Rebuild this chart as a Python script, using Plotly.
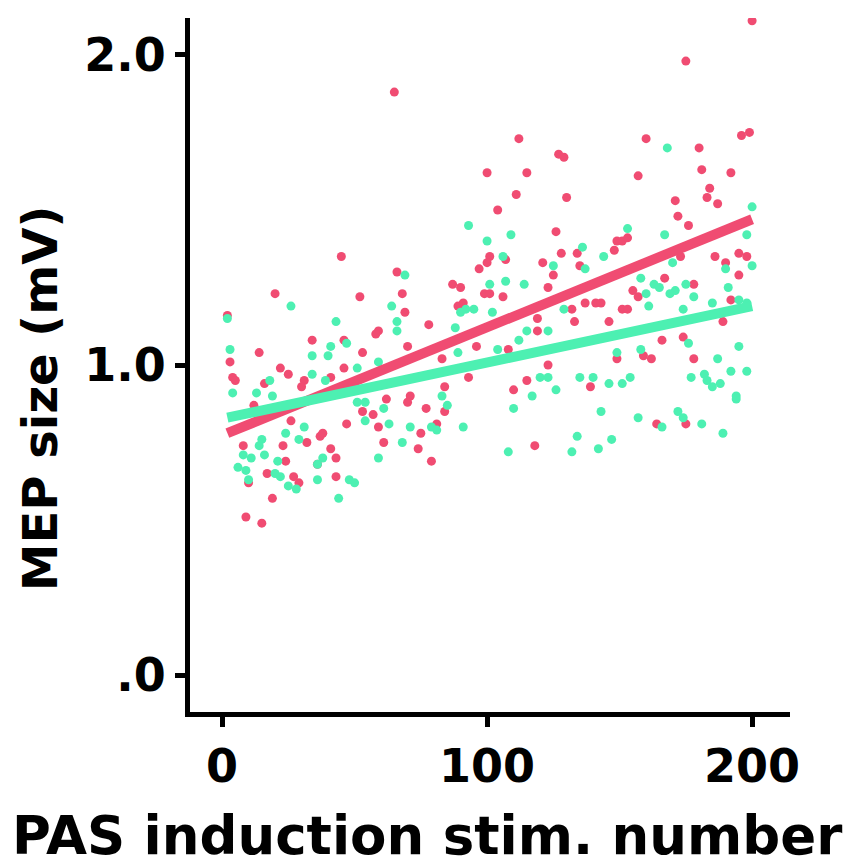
import plotly.graph_objects as go

# ---- data ----
red_x = [200, 175, 65, 112, 127, 129, 100, 115, 111, 130, 104, 126, 128, 101, 100, 107, 121, 134, 135,
         149, 151, 148, 160, 180, 196, 199, 157, 181, 192, 184, 183, 187, 171, 172, 176, 153, 173, 186,
         190, 195, 198, 45, 66, 97, 2, 20, 34, 14, 3, 4, 5, 22, 25, 46, 41, 31, 30, 16, 46, 52, 68, 69,
         87, 90, 99, 89, 91, 78, 59, 58, 53, 70, 96, 83, 93, 84, 62, 71, 70, 125, 101, 106, 123, 137,
         141, 143, 132, 151, 133, 146, 119, 119, 108, 123, 149, 115, 110, 139, 167, 178, 195, 155, 157,
         192, 189, 166, 174, 159, 162, 178, 153, 12, 26, 47, 37, 38, 32, 23, 41, 43, 24, 36, 8, 17, 27,
         29, 43, 19, 9, 15, 10, 77, 84, 53, 57, 59, 75, 81, 61, 74, 79, 118, 164, 175]
red_y = [2.11, 1.98, 1.88, 1.73, 1.68, 1.67, 1.62, 1.62, 1.55, 1.54, 1.50, 1.43, 1.36, 1.35, 1.33, 1.34,
         1.33, 1.36, 1.32, 1.40, 1.40, 1.37, 1.73, 1.70, 1.74, 1.75, 1.61, 1.63, 1.62, 1.57, 1.54, 1.52,
         1.53, 1.48, 1.45, 1.41, 1.35, 1.35, 1.33, 1.36, 1.35, 1.35, 1.30, 1.31, 1.16, 1.23, 1.08, 1.04,
         1.01, 0.96, 0.95, 0.99, 0.97, 1.08, 0.96, 0.95, 0.93, 0.94, 0.99, 1.22, 1.23, 1.17, 1.26, 1.25,
         1.23, 1.19, 1.20, 1.13, 1.11, 1.10, 1.04, 1.06, 1.06, 1.02, 0.96, 0.93, 0.89, 0.90, 0.88, 1.29,
         1.23, 1.22, 1.25, 1.20, 1.20, 1.20, 1.18, 1.18, 1.14, 1.14, 1.15, 1.11, 1.05, 1.00, 1.02, 0.95,
         0.92, 0.93, 1.28, 1.26, 1.29, 1.24, 1.22, 1.21, 1.14, 1.08, 1.09, 1.03, 1.02, 1.02, 1.18, 0.87,
         0.82, 0.81, 0.77, 0.78, 0.75, 0.74, 0.73, 0.70, 0.69, 0.68, 0.74, 0.65, 0.64, 0.62, 0.64, 0.57,
         0.51, 0.49, 0.62, 0.86, 0.85, 0.85, 0.84, 0.80, 0.78, 0.81, 0.75, 0.73, 0.69, 0.74, 0.81, 0.81]

green_x = [109, 100, 106, 136, 144, 125, 137, 153, 168, 200, 167, 198, 190, 200, 170, 93, 69, 2, 26, 43,
           3, 34, 41, 40, 34, 18, 4, 13, 39, 19, 64, 66, 66, 92, 95, 90, 88, 47, 89, 59, 51, 83, 101,
           107, 114, 102, 129, 115, 123, 112, 104, 149, 120, 123, 135, 140, 146, 151, 126, 117, 158, 163,
           165, 171, 169, 175, 160, 191, 178, 161, 174, 185, 195, 198, 176, 195, 158, 187, 192, 198, 154,
           177, 182, 183, 188, 185, 194, 24, 31, 15, 29, 14, 8, 11, 16, 21, 38, 36, 6, 9, 20, 22, 10, 25,
           28, 36, 44, 51, 54, 61, 85, 54, 63, 71, 79, 81, 91, 68, 59, 48, 50, 110, 143, 134, 147, 108,
           132, 142, 157, 166, 172, 174, 181, 189, 194]
green_y = [1.42, 1.40, 1.35, 1.38, 1.35, 1.32, 1.31, 1.44, 1.70, 1.51, 1.42, 1.42, 1.31, 1.32, 1.33, 1.45,
           1.29, 1.15, 1.19, 1.14, 1.05, 1.03, 1.06, 1.03, 0.97, 0.95, 0.91, 0.91, 0.95, 0.90, 1.19, 1.14,
           1.11, 1.18, 1.18, 1.17, 1.12, 1.07, 1.04, 1.01, 0.99, 0.90, 1.26, 1.27, 1.26, 1.17, 1.18, 1.11,
           1.11, 1.08, 1.05, 1.04, 0.96, 0.96, 0.96, 0.96, 0.94, 0.94, 0.92, 0.90, 1.28, 1.26, 1.25, 1.24,
           1.23, 1.26, 1.23, 1.25, 1.22, 1.19, 1.18, 1.20, 1.21, 1.20, 1.07, 1.06, 1.05, 1.02, 0.98, 0.98,
           0.96, 0.96, 0.97, 0.95, 0.94, 0.93, 0.90, 0.78, 0.80, 0.76, 0.76, 0.74, 0.71, 0.70, 0.71, 0.69,
           0.70, 0.68, 0.67, 0.66, 0.65, 0.64, 0.63, 0.61, 0.60, 0.63, 0.57, 0.88, 0.88, 0.86, 0.87, 0.82,
           0.81, 0.80, 0.80, 0.79, 0.80, 0.75, 0.70, 0.63, 0.62, 0.86, 0.85, 0.77, 0.76, 0.72, 0.72, 0.73,
           0.83, 0.80, 0.85, 0.83, 0.81, 0.78, 0.89]

fit_x = [2, 200]
red_fit = [0.78, 1.47]
green_fit = [0.83, 1.19]

x_tickvals = [0, 100, 200]
x_ticktext = ["0", "100", "200"]
y_tickvals = [0, 1, 2]
y_ticktext = [".0", "1.0", "2.0"]

RED = "#F04C72"
GREEN = "#4DF0B2"
FONT = "DejaVu Sans"

fig = go.Figure()
fig.add_trace(go.Scatter(x=red_x, y=red_y, mode="markers",
                         marker=dict(color=RED, size=9, line=dict(width=0))))
fig.add_trace(go.Scatter(x=green_x, y=green_y, mode="markers",
                         marker=dict(color=GREEN, size=9, line=dict(width=0))))
fig.add_trace(go.Scatter(x=fit_x, y=red_fit, mode="lines", line=dict(color=RED, width=10)))
fig.add_trace(go.Scatter(x=fit_x, y=green_fit, mode="lines", line=dict(color=GREEN, width=10)))

axis_common = dict(showline=True, linecolor="black", linewidth=5, ticks="outside", ticklen=10,
                   tickwidth=5, tickcolor="black", showgrid=False, zeroline=False,
                   tickfont=dict(family=FONT, size=46, color="black", weight="bold"))

fig.update_xaxes(range=[-12.1, 214.3], tickvals=x_tickvals, ticktext=x_ticktext, **axis_common)
fig.update_yaxes(range=[-0.119, 2.119], tickvals=y_tickvals, ticktext=y_ticktext, **axis_common)

fig.update_layout(
    width=855, height=868, margin=dict(l=190, r=65, t=18, b=156),
    plot_bgcolor="white", paper_bgcolor="white", showlegend=False,
    annotations=[
        dict(text="PAS induction stim. number", xref="paper", yref="paper", x=0.395, y=-0.178,
             xanchor="center", yanchor="middle", showarrow=False,
             font=dict(family=FONT, size=53, color="black", weight="bold")),
        dict(text="MEP size (mV)", xref="paper", yref="paper", x=-0.25, y=0.452, textangle=-90,
             xanchor="center", yanchor="middle", showarrow=False,
             font=dict(family=FONT, size=48, color="black", weight="bold")),
    ],
)

fig.write_html("out.html")
